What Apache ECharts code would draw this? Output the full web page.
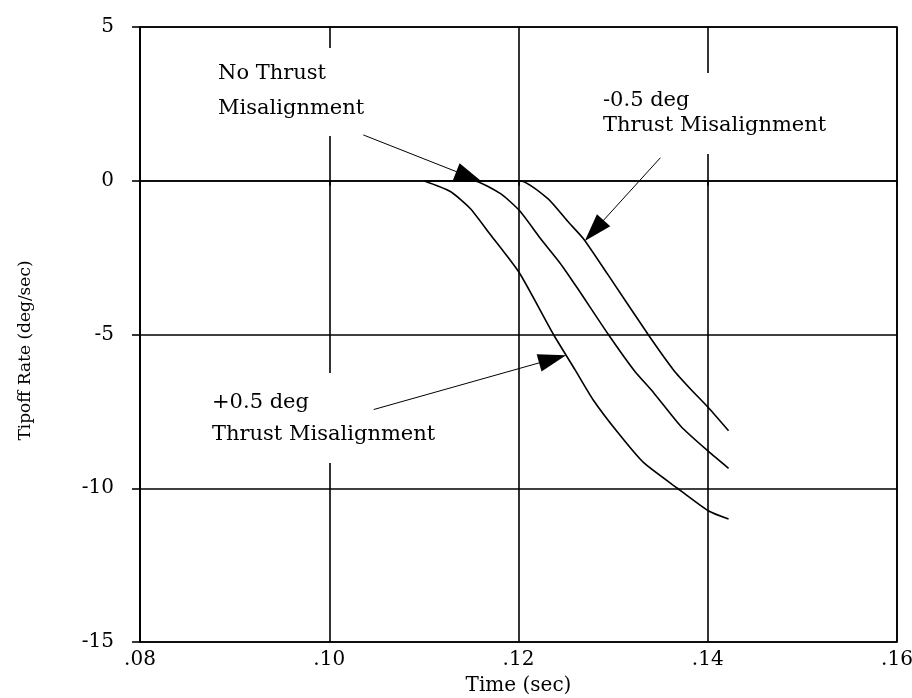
<!DOCTYPE html>
<html>
<head>
<meta charset="utf-8">
<script src="https://cdn.jsdelivr.net/npm/echarts@6/dist/echarts.min.js"></script>
<style>
  html, body { margin: 0; padding: 0; background: #fff; }
  #tipoff { width: 912px; height: 698px; }
</style>
</head>
<body>
<div id="tipoff"></div>
<script>
// 读图得到的数据 (time in sec, tipoff rate in deg/sec)
const timePlus = [0.110, 0.1128, 0.1149, 0.1170, 0.1201, 0.1237, 0.1260, 0.1279, 0.1305, 0.1332, 0.1368, 0.1401, 0.1422]
const ratePlus = [0, -0.35, -0.90, -1.74, -3.0, -5.0, -6.16, -7.13, -8.19, -9.16, -10.0, -10.74, -11.0]

const timeNone = [0.110, 0.1152, 0.1181, 0.1201, 0.1223, 0.1244, 0.1262, 0.1295, 0.1322, 0.1343, 0.1372, 0.1401, 0.1422]
const rateNone = [0, 0, -0.42, -0.97, -1.87, -2.68, -3.48, -5.0, -6.16, -6.9, -8.0, -8.81, -9.35]

const timeMinus = [0.110, 0.1201, 0.1231, 0.1252, 0.1269, 0.1294, 0.1337, 0.1364, 0.1382, 0.1401, 0.1422]
const rateMinus = [0, 0, -0.58, -1.32, -1.90, -3.03, -5.0, -6.16, -6.78, -7.39, -8.13]

const xTicks = [0.08, 0.10, 0.12, 0.14, 0.16]
const yTicks = [5, 0, -5, -10, -15]

// arrows: [from, to] in data coords (to = centre of the arrow head)
const arrowNone = [[0.1036, 1.49], [0.1148, 0.13]]
const arrowMinus = [[0.1350, 0.75], [0.1280, -1.62]]
const arrowPlus = [[0.1047, -7.44], [0.1236, -5.80]]

const FONT = '"DejaVu Serif", "Liberation Serif", serif'

function zip(xs, ys) {
  return xs.map((x, i) => [x, ys[i]])
}

const chart = echarts.init(document.getElementById('tipoff'))

const curve = (name, data) => ({
  name: name,
  type: 'line',
  data: data,
  smooth: 0.2,
  showSymbol: false,
  symbol: 'none',
  lineStyle: { color: '#000', width: 1.6 },
  z: 3,
})

const arrowLine = (pts) => [{ coord: pts[0] }, { coord: pts[1] }]

let option = {
  backgroundColor: '#fff',
  animation: false,
  grid: {
    left: 140,
    right: 15,
    top: 27,
    bottom: 56,
    outerBoundsMode: 'none',
    show: true,
    borderColor: '#000',
    borderWidth: 1.6,
  },
  xAxis: {
    type: 'value',
    min: xTicks[0],
    max: xTicks[xTicks.length - 1],
    interval: 0.02,
    name: 'Time (sec)',
    nameLocation: 'middle',
    nameGap: 34,
    nameTextStyle: { fontFamily: FONT, fontSize: 20, color: '#000' },
    axisLine: { show: true, lineStyle: { color: '#000', width: 1.6 } },
    axisTick: { show: true, length: 5, lineStyle: { color: '#000', width: 1.6 } },
    axisLabel: {
      margin: 8,
      fontFamily: FONT,
      fontSize: 20,
      color: '#000',
      formatter: (v) => v.toFixed(2).replace(/^0/, ''),
    },
    splitLine: { show: true, lineStyle: { color: '#000', width: 1.6 } },
  },
  yAxis: {
    type: 'value',
    min: yTicks[yTicks.length - 1],
    max: yTicks[0],
    interval: 5,
    name: 'Tipoff Rate (deg/sec)',
    nameLocation: 'middle',
    nameGap: 106,
    nameTextStyle: { fontFamily: FONT, fontSize: 17, color: '#000', padding: [0, 32, 0, 0] },
    axisLine: { show: true, lineStyle: { color: '#000', width: 1.6 } },
    axisTick: { show: true, length: 8, lineStyle: { color: '#000', width: 1.6 } },
    axisLabel: {
      margin: 26,
      fontFamily: FONT,
      fontSize: 20,
      color: '#000',
    },
    splitLine: { show: true, lineStyle: { color: '#000', width: 1.6 } },
  },
  // 标注文字 (white box breaks the grid lines like the scan)
  graphic: [
    {
      type: 'text',
      x: 210,
      y: 48,
      z: 1,
      style: {
        text: 'No Thrust\nMisalignment',
        font: '21px ' + FONT,
        fill: '#000',
        lineHeight: 35,
        backgroundColor: '#fff',
        padding: [8, 8, 10, 8],
      },
    },
    {
      type: 'text',
      x: 595,
      y: 73,
      z: 1,
      style: {
        text: '-0.5 deg\nThrust Misalignment',
        font: '21px ' + FONT,
        fill: '#000',
        lineHeight: 25,
        backgroundColor: '#fff',
        padding: [15, 8, 16, 8],
      },
    },
    {
      type: 'text',
      x: 204,
      y: 373,
      z: 1,
      style: {
        text: '+0.5 deg\nThrust Misalignment',
        font: '21px ' + FONT,
        fill: '#000',
        lineHeight: 32,
        backgroundColor: '#fff',
        padding: [14, 8, 12, 8],
      },
    },
  ],
  series: [
    curve('+0.5 deg', zip(timePlus, ratePlus)),
    curve('No Thrust Misalignment', zip(timeNone, rateNone)),
    curve('-0.5 deg', zip(timeMinus, rateMinus)),
    {
      type: 'line',
      data: [],
      z: 4,
      markLine: {
        silent: true,
        animation: false,
        symbol: ['none', 'triangle'],
        symbolSize: [18, 28],
        label: { show: false },
        lineStyle: { color: '#000', width: 1, type: 'solid' },
        data: [arrowLine(arrowNone), arrowLine(arrowMinus), arrowLine(arrowPlus)],
      },
    },
  ],
}

chart.setOption(option)

window.addEventListener('resize', () => {
  chart.resize()
})
</script>
</body>
</html>
